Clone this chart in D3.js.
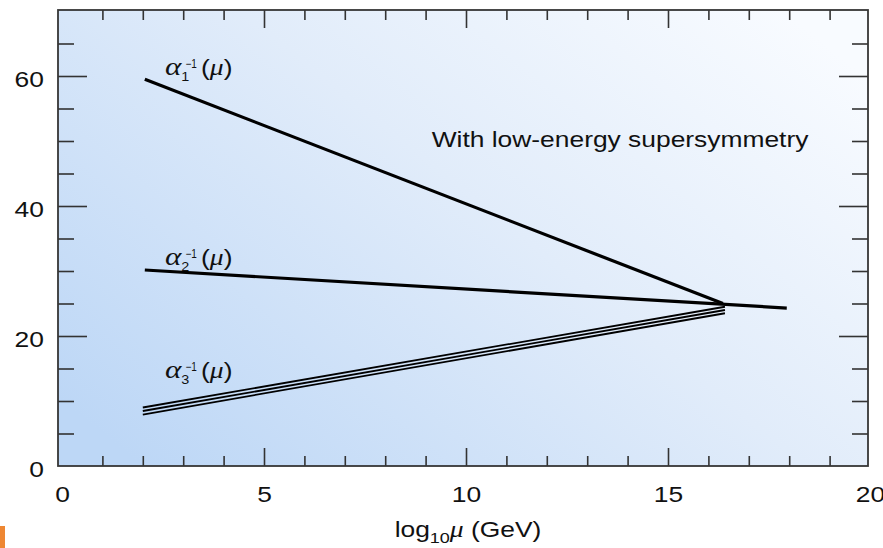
<!DOCTYPE html>
<html>
<head>
<meta charset="utf-8">
<script src="https://cdn.jsdelivr.net/npm/d3@7"></script>
<style>
  body { margin: 0; background: #fff; }
  text { font-family: "Liberation Sans", Arial, sans-serif; fill: #111; }
  .greek { font-family: "Liberation Serif", "Times New Roman", serif; font-style: italic; }
</style>
</head>
<body>
<svg class="chart"></svg>
<script>
// values
var xTickLabels = [0, 5, 10, 15, 20];
var yTickLabels = [0, 20, 40, 60];
var xMinorTicks = d3.range(1, 20);
var yMinorTicks = d3.range(5, 70, 5);

var alpha1X = [2.05, 16.36];
var alpha1Y = [59.5, 25.0];
var alpha2X = [2.05, 17.94];
var alpha2Y = [30.15, 24.3];
var alpha3X = [2.0, 16.41];
var alpha3Upper = [9.0, 24.5];
var alpha3Mid = [8.46, 24.0];
var alpha3Lower = [7.92, 23.5];

var labelSubs = ["1", "2", "3"];
var labelX = [2.55, 2.55, 2.55];
var labelY = [60.2, 31.0, 13.5];
var note = "With low-energy supersymmetry";

var width = 883, height = 548;
var box = {left: 58, top: 10, right: 868, bottom: 466};
var stretch = 1.2;

var svg = d3.select(".chart").attr("width", width).attr("height", height);

var x = d3.scaleLinear().domain([0, 20]).range([box.left + 4, box.right + 2]);
var y = d3.scaleLinear().domain([0, 70]).range([box.bottom, box.bottom - 70 * 6.5]);

// background
var defs = svg.append("defs");
var grad = defs.append("linearGradient").attr("id", "bg")
  .attr("x1", 0).attr("y1", 0.85).attr("x2", 1).attr("y2", 0.15);
grad.append("stop").attr("offset", "0%").attr("stop-color", "#bdd7f6");
grad.append("stop").attr("offset", "55%").attr("stop-color", "#e1ecfa");
grad.append("stop").attr("offset", "100%").attr("stop-color", "#f8fbff");

svg.append("rect")
  .attr("x", box.left).attr("y", box.top)
  .attr("width", box.right - box.left).attr("height", box.bottom - box.top)
  .attr("fill", "url(#bg)");

// small orange tab at bottom left
svg.append("rect").attr("x", 0).attr("y", 526).attr("width", 5).attr("height", 22).attr("fill", "#ee8733");

// ticks, inside on all four sides
function tickAxis(axis, values, size, tx, ty) {
  var g = svg.append("g")
    .attr("transform", "translate(" + tx + "," + ty + ")")
    .call(axis.tickValues(values).tickSize(size).tickFormat(""));
  g.select(".domain").remove();
  g.selectAll("line").attr("stroke", "#333").attr("stroke-width", 1.6);
}
var xMajor = [5, 10, 15];
var yMajor = [20, 40, 60];
tickAxis(d3.axisBottom(x), xMinorTicks.filter(function(d) { return d % 5; }), -10, 0, box.bottom);
tickAxis(d3.axisBottom(x), xMajor, -18, 0, box.bottom);
tickAxis(d3.axisTop(x), xMinorTicks.filter(function(d) { return d % 5; }), -10, 0, box.top);
tickAxis(d3.axisTop(x), xMajor, -18, 0, box.top);
tickAxis(d3.axisLeft(y), yMinorTicks.filter(function(d) { return d % 20; }), -16, box.left, 0);
tickAxis(d3.axisLeft(y), yMajor, -29, box.left, 0);
tickAxis(d3.axisRight(y), yMinorTicks.filter(function(d) { return d % 20; }), -16, box.right, 0);
tickAxis(d3.axisRight(y), yMajor, -29, box.right, 0);

// frame
svg.append("rect")
  .attr("x", box.left).attr("y", box.top)
  .attr("width", box.right - box.left).attr("height", box.bottom - box.top)
  .attr("fill", "none").attr("stroke", "#363636").attr("stroke-width", 1.8);

// tick labels (the picture is stretched sideways, so the text is too)
var xLab = svg.append("g")
  .attr("transform", "translate(0," + box.bottom + ")")
  .call(d3.axisBottom(x).tickValues(xTickLabels).tickSize(0).tickPadding(20));
xLab.select(".domain").remove();
xLab.selectAll("text")
  .style("font-size", "22px").attr("fill", "#111")
  .attr("transform", "scale(" + stretch + ",1)");

var yLab = svg.append("g")
  .attr("transform", "translate(" + box.left + ",0)")
  .call(d3.axisLeft(y).tickValues(yTickLabels).tickSize(0).tickPadding(11.7));
yLab.select(".domain").remove();
yLab.selectAll("text")
  .style("font-size", "22px").attr("fill", "#111")
  .attr("dy", "0.48em")
  .attr("transform", "scale(" + stretch + ",1)");

// curves
var line = d3.line()
  .x(function(d) { return x(d[0]); })
  .y(function(d) { return y(d[1]); });

function drawLine(xs, ys, w) {
  svg.append("path")
    .datum(d3.zip(xs, ys))
    .attr("d", line)
    .attr("fill", "none")
    .attr("stroke", "#000")
    .attr("stroke-width", w);
}
drawLine(alpha1X, alpha1Y, 3.2);
drawLine(alpha2X, alpha2Y, 3.2);
drawLine(alpha3X, alpha3Upper, 1.8);
drawLine(alpha3X, alpha3Mid, 1.8);
drawLine(alpha3X, alpha3Lower, 1.8);

// curve labels: alpha_i^-1(mu)
function stretched(px, py) {
  return svg.append("g").attr("transform", "translate(" + px + "," + py + ") scale(" + stretch + ",1)");
}

labelSubs.forEach(function(s, i) {
  var g = stretched(x(labelX[i]), y(labelY[i]));
  g.append("text").attr("class", "greek").attr("x", 0).attr("y", 0)
    .style("font-size", "26px").text("α");
  g.append("text").attr("x", 13.5).attr("y", 6).style("font-size", "12px").text(s);
  g.append("text").attr("x", 17).attr("y", -7).style("font-size", "12px")
    .attr("textLength", 9.5).attr("lengthAdjust", "spacingAndGlyphs").text("−1");
  var t = g.append("text").attr("x", 30).attr("y", 0).style("font-size", "22px");
  t.append("tspan").text("(");
  t.append("tspan").attr("class", "greek").style("font-size", "23px").text("μ");
  t.append("tspan").text(")");
});

// annotation
stretched(x(9.15), y(49.1)).append("text")
  .style("font-size", "22px")
  .text(note);

// x axis title
var title = stretched(x(10) + 2, 537).append("text")
  .attr("text-anchor", "middle")
  .style("font-size", "22px");
title.append("tspan").text("log");
title.append("tspan").attr("dy", 6).style("font-size", "15px").text("10");
title.append("tspan").attr("dy", -6).attr("class", "greek").style("font-size", "23px").text("μ");
title.append("tspan").text(" (GeV)");
</script>
</body>
</html>
